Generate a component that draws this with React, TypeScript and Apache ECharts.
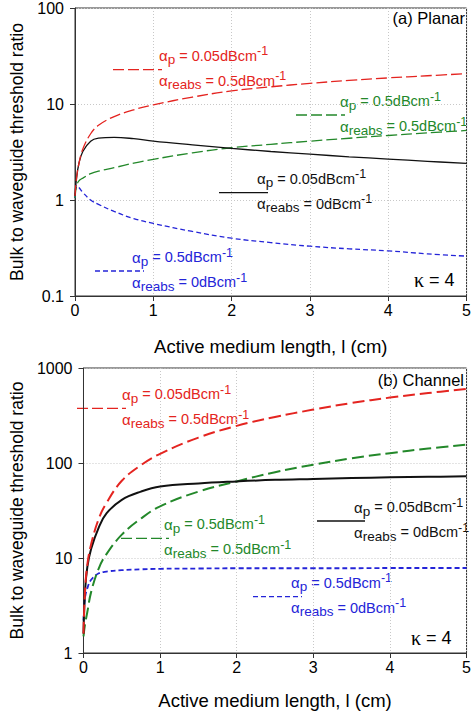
import React, { useEffect, useRef } from "react";
import * as echarts from "echarts";

const SANS = "Liberation Sans, Arial, sans-serif";
const SERIF = "Liberation Serif, Times New Roman, serif";

// Active medium length (cm), shared by both panels
const lengthCm = [0, 0.02, 0.05, 0.1, 0.2, 0.3, 0.5, 0.75, 1, 1.5, 2, 2.5, 3, 3.5, 4, 4.5, 5];

// (a) Planar waveguide: bulk-to-waveguide threshold ratio
const planarLowPumpReabs = [1.1, 1.7, 2.4, 3.4, 4.9, 6.0, 7.4, 8.7, 9.8, 11.8, 13.7, 15.1, 16.4, 17.6, 18.7, 19.7, 20.7];
const planarLowPumpNoReabs = [1.1, 1.7, 2.4, 3.2, 4.1, 4.4, 4.5, 4.35, 4.1, 3.75, 3.45, 3.2, 3.0, 2.82, 2.67, 2.53, 2.41];
const planarHighPumpReabs = [1.05, 1.4, 1.58, 1.69, 1.88, 2.0, 2.17, 2.42, 2.65, 3.1, 3.5, 3.8, 4.1, 4.4, 4.7, 5.0, 5.3];
const planarHighPumpNoReabs = [1.05, 1.42, 1.35, 1.2, 1.0, 0.9, 0.76, 0.64, 0.57, 0.47, 0.4, 0.36, 0.33, 0.31, 0.295, 0.275, 0.26];

// (b) Channel waveguide
const channelLowPumpReabs = [1.6, 4.5, 8.5, 14, 26, 38, 65, 95, 125, 185, 246, 305, 365, 428, 488, 545, 601];
const channelLowPumpNoReabs = [1.6, 4.5, 8, 12.5, 21, 29.5, 41, 50, 56.5, 61, 64, 66.5, 68, 69.5, 70.7, 71.6, 72.4];
const channelHighPumpReabs = [1.5, 2.0, 2.7, 4.4, 7.8, 11, 17.6, 26, 35, 50, 64, 80, 96, 112, 127, 142, 156];
const channelHighPumpNoReabs = [2.2, 3.8, 4.8, 5.9, 6.9, 7.2, 7.45, 7.6, 7.7, 7.75, 7.8, 7.8, 7.8, 7.8, 7.85, 7.85, 7.85];

const panelTitles = ["(a) Planar", "(b) Channel"];
const yRanges = [
  [0.1, 100],
  [1, 1000],
];
const xTitle = "Active medium length, l (cm)";
const yTitle = "Bulk to waveguide threshold ratio";

const RED = "#e42420";
const GREEN = "#23882a";
const BLUE = "#2424d8";
const BLACK = "#111111";

const grids = [
  { left: 66, top: 6, width: 404, height: 290 },
  { left: 73, top: 368, width: 395, height: 285 },
];

function curve(panel: number, ys: number[], color: string, width: number, dash: any) {
  return {
    type: "line",
    xAxisIndex: panel,
    yAxisIndex: panel,
    data: lengthCm.map((x, i) => [x, ys[i]]),
    symbol: "none",
    smooth: 0.4,
    silent: true,
    lineStyle: { color, width, type: dash },
  };
}

function formula(x: number, y: number, sub: string, value: string, color: string) {
  return {
    type: "text",
    x,
    y,
    silent: true,
    style: {
      text: `{g|α}{s|${sub}}{v| = ${value}dBcm}{e|-1}`,
      align: "left",
      verticalAlign: "middle",
      rich: {
        g: { fontSize: 15, fontFamily: SANS, fill: color },
        s: { fontSize: 13.5, fontFamily: SANS, fill: color, padding: [8, 0, 0, 0] },
        v: { fontSize: 14.5, fontFamily: SANS, fill: color },
        e: { fontSize: 12.5, fontFamily: SANS, fill: color, padding: [0, 0, 9, 0] },
      },
    },
  };
}

function legendEntry(
  x1: number,
  x2: number,
  y: number,
  textX: number,
  pump: string,
  reabs: string,
  color: string,
  width: number,
  dash: number[] | null
) {
  return [
    {
      type: "line",
      silent: true,
      shape: { x1, y1: y, x2, y2: y },
      style: { stroke: color, lineWidth: width, lineDash: dash || undefined },
    },
    formula(textX, y - 14, "p", pump, color),
    formula(textX, y + 11, "reabs", reabs, color),
  ];
}

function kappa(x: number, y: number) {
  return {
    type: "text",
    x,
    y,
    silent: true,
    style: {
      text: "{k|κ}{v| = 4}",
      align: "left",
      verticalAlign: "middle",
      rich: {
        k: { fontSize: 20, fontFamily: SERIF, fill: "#000" },
        v: { fontSize: 18, fontFamily: SANS, fill: "#000" },
      },
    },
  };
}

function panelTitle(x: number, y: number, text: string) {
  return {
    type: "text",
    x,
    y,
    silent: true,
    style: { text, fontSize: 16.5, fontFamily: SANS, fill: "#000", align: "right", verticalAlign: "middle" },
  };
}

export default function App() {
  const ref = useRef<HTMLDivElement>(null);

  useEffect(() => {
    if (!ref.current) return;
    const chart = echarts.init(ref.current, undefined, { renderer: "svg" });

    const dashTopLong = [11, 4];
    const dashTopShort = [5, 3];
    const dashBotLong = [12, 5];
    const dashBotShort = [5, 3];

    const graphic: any[] = [
      ...legendEntry(113, 162, 69.7, 159, "0.05", "0.5", RED, 1.3, dashTopLong),
      ...legendEntry(296, 345, 115, 340, "0.5", "0.5", GREEN, 1.3, dashTopLong),
      ...legendEntry(219, 268, 192.7, 257, "0.05", "0", BLACK, 1.3, null),
      ...legendEntry(95, 144, 271, 132, "0.5", "0", BLUE, 1.3, dashTopShort),
      ...legendEntry(77, 126, 408.3, 122, "0.05", "0.5", RED, 1.3, dashTopLong),
      ...legendEntry(121, 169, 538.3, 164, "0.5", "0.5", GREEN, 1.3, dashTopLong),
      ...legendEntry(317, 365, 521, 354, "0.05", "0", BLACK, 1.3, null),
      ...legendEntry(253, 302, 596.7, 291, "0.5", "0", BLUE, 1.3, dashTopShort),
      panelTitle(465, 18, panelTitles[0]),
      panelTitle(464, 380, panelTitles[1]),
      kappa(414, 280),
      kappa(411, 638),
    ];

    const option: any = {
      animation: false,
      backgroundColor: "#fff",
      textStyle: { fontFamily: SANS },
      grid: grids.map((g) => ({ ...g, show: true, borderColor: "#333", borderWidth: 1, backgroundColor: "transparent" })),
      xAxis: [0, 1].map((i) => ({
        gridIndex: i,
        type: "value",
        min: 0,
        max: 5,
        interval: 1,
        name: xTitle,
        nameLocation: "middle",
        nameGap: i === 0 ? 41 : 38,
        nameTextStyle: { fontSize: 18.5, color: "#000", fontFamily: SANS },
        axisLine: { show: true, onZero: false, lineStyle: { color: "#333", width: 1 } },
        axisTick: { show: true, inside: false, length: 5, lineStyle: { color: "#333" } },
        axisLabel: { fontSize: 16, color: "#000", margin: 6, fontFamily: SANS },
        splitLine: { show: true, lineStyle: { color: "#c8c8c8", type: [1, 2], width: 1 } },
      })),
      yAxis: [0, 1].map((i) => ({
        gridIndex: i,
        type: "log",
        logBase: 10,
        min: yRanges[i][0],
        max: yRanges[i][1],
        name: yTitle,
        nameLocation: "middle",
        nameGap: i === 0 ? 49 : 56,
        nameRotate: 90,
        nameTextStyle: { fontSize: 17.5, color: "#000", fontFamily: SANS },
        axisLine: { show: true, lineStyle: { color: "#333", width: 1 } },
        axisTick: { show: true, inside: false, length: 5, lineStyle: { color: "#333" } },
        minorTick: { show: false },
        axisLabel: {
          fontSize: 16,
          color: "#000",
          margin: 11,
          fontFamily: SANS,
          formatter: (v: number) => String(Number(v.toPrecision(3))),
        },
        splitLine: { show: true, lineStyle: { color: "#c8c8c8", type: [1, 2], width: 1 } },
      })),
      series: [
        curve(0, planarHighPumpNoReabs, BLUE, 1.3, dashTopShort),
        curve(0, planarHighPumpReabs, GREEN, 1.3, dashTopLong),
        curve(0, planarLowPumpNoReabs, BLACK, 1.3, "solid"),
        curve(0, planarLowPumpReabs, RED, 1.3, dashTopLong),
        curve(1, channelHighPumpNoReabs, BLUE, 1.8, dashBotShort),
        curve(1, channelHighPumpReabs, GREEN, 2, dashBotLong),
        curve(1, channelLowPumpNoReabs, BLACK, 2, "solid"),
        curve(1, channelLowPumpReabs, RED, 2, dashBotLong),
      ],
      graphic,
    };

    chart.setOption(option);
    return () => chart.dispose();
  }, []);

  return <div ref={ref} style={{ position: "absolute", left: 0, top: 0, width: 474, height: 712 }} />;
}
